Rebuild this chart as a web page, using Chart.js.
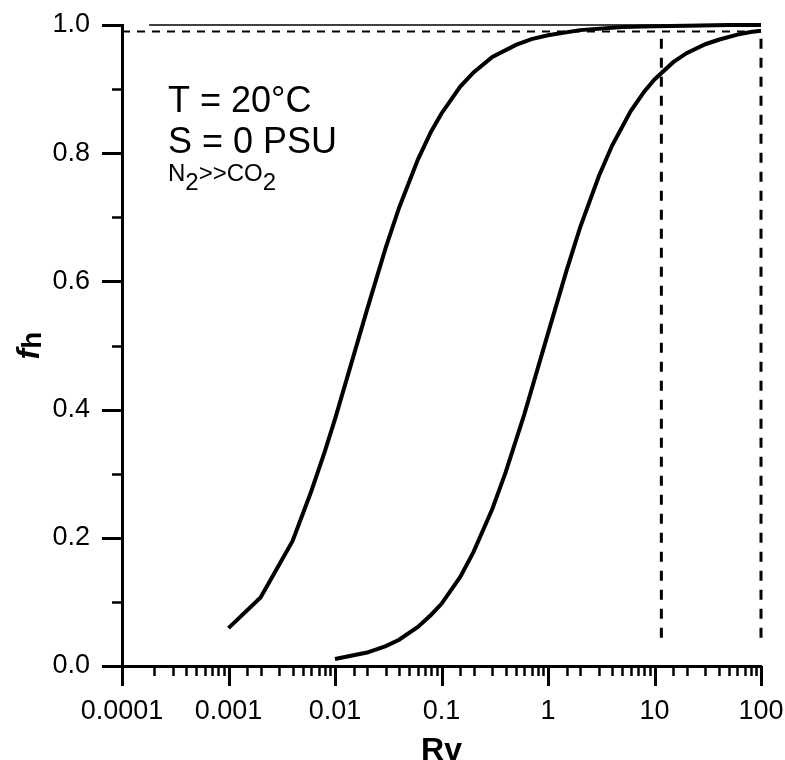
<!DOCTYPE html>
<html>
<head>
<meta charset="utf-8">
<script src="https://cdn.jsdelivr.net/npm/chart.js@4/dist/chart.umd.min.js"></script>
<style>
  html, body { margin: 0; padding: 0; background: #fff; }
  #wrap { width: 785px; height: 760px; }
</style>
</head>
<body>
<div id="wrap"><canvas id="chart" width="785" height="760"></canvas></div>
<script>
// values
var rv_left = [0.001, 0.002, 0.004, 0.006, 0.008, 0.01, 0.015, 0.02, 0.03, 0.04, 0.06, 0.08, 0.1,
               0.15, 0.2, 0.3, 0.5, 0.7, 1, 2, 5, 10, 20, 50, 100];
var fh_left = [0.059, 0.107, 0.195, 0.273, 0.334, 0.385, 0.485, 0.556, 0.653, 0.715, 0.790, 0.834, 0.862,
               0.904, 0.926, 0.950, 0.969, 0.978, 0.984, 0.992, 0.997, 0.998, 0.999, 1.0, 1.0];

var rv_right = [0.01, 0.02, 0.03, 0.04, 0.06, 0.08, 0.1, 0.15, 0.2, 0.3, 0.4, 0.6, 0.8, 1,
                1.5, 2, 3, 4, 6, 8, 10, 15, 20, 30, 40, 60, 80, 100];
var fh_right = [0.011, 0.021, 0.031, 0.041, 0.061, 0.080, 0.097, 0.139, 0.178, 0.245, 0.302, 0.393, 0.464, 0.519,
                0.618, 0.684, 0.764, 0.812, 0.866, 0.896, 0.915, 0.942, 0.956, 0.970, 0.977, 0.985, 0.989, 0.991];

var x_tick_labels = ['0.0001', '0.001', '0.01', '0.1', '1', '10', '100'];
var y_tick_labels = ['0.0', '0.2', '0.4', '0.6', '0.8', '1.0'];

var ref_level = 0.99;        // horizontal dashed line
var ref_x = [11.6, 100];     // vertical dashed lines
var ref_bottom = 0.044;
var unity_x = [0.00018, 100];

var FONT = "Arial, 'Liberation Sans', sans-serif";

function pts(xs, ys) {
    return xs.map(function (x, i) { return {x: x, y: ys[i]}; });
}

function isDecade(v) {
    var l = Math.log10(v);
    return Math.abs(l - Math.round(l)) < 1e-6;
}

var extras = {
    id: 'extras',
    afterDraw: function (chart) {
        var ctx = chart.ctx;
        var xs = chart.scales.x, ys = chart.scales.y;
        var area = chart.chartArea;
        ctx.save();
        ctx.strokeStyle = '#000';
        ctx.lineCap = 'butt';

        // x ticks below the axis
        xs.ticks.forEach(function (t) {
            var px = Math.round(xs.getPixelForValue(t.value)) + 0.5;
            var major = isDecade(t.value);
            ctx.lineWidth = major ? 3 : 2.5;
            ctx.beginPath();
            ctx.moveTo(px, area.bottom);
            ctx.lineTo(px, area.bottom + (major ? 20 : 10));
            ctx.stroke();
        });
        // y ticks left of the axis
        ys.ticks.forEach(function (t) {
            var py = Math.round(ys.getPixelForValue(t.value)) + 0.5;
            var major = Math.round(t.value * 10) % 2 === 0;
            ctx.lineWidth = major ? 3 : 2.5;
            ctx.beginPath();
            ctx.moveTo(area.left, py);
            ctx.lineTo(area.left - (major ? 20 : 10), py);
            ctx.stroke();
        });

        ctx.fillStyle = '#000';
        ctx.textAlign = 'left';
        ctx.textBaseline = 'alphabetic';

        // x title
        ctx.font = 'bold 32px ' + FONT;
        ctx.textAlign = 'center';
        ctx.fillText('Rv', (area.left + area.right) / 2, 760);

        // y title: f with subscript h, rotated
        ctx.save();
        ctx.translate(39, (area.top + area.bottom) / 2);
        ctx.rotate(-Math.PI / 2);
        ctx.textAlign = 'left';
        ctx.font = 'italic bold 32px ' + FONT;
        var wf = ctx.measureText('f').width;
        ctx.font = 'bold 28px ' + FONT;
        var wh = ctx.measureText('h').width;
        var x0 = -(wf + wh) / 2;
        ctx.font = 'italic bold 32px ' + FONT;
        ctx.fillText('f', x0, 0);
        ctx.font = 'bold 28px ' + FONT;
        ctx.fillText('h', x0 + wf, 2);
        ctx.restore();

        // annotation
        ctx.textAlign = 'left';
        var ax = area.left + 46;
        ctx.font = '36px ' + FONT;
        ctx.fillText('T = 20\u00B0C', ax, 112);
        ctx.fillText('S = 0 PSU', ax, 153);
        ctx.font = '24px ' + FONT;
        var x = ax;
        ctx.fillText('N', x, 181); x += ctx.measureText('N').width;
        ctx.fillText('2', x, 190); x += ctx.measureText('2').width;
        ctx.fillText('>>CO', x, 181); x += ctx.measureText('>>CO').width;
        ctx.fillText('2', x, 190);

        ctx.restore();
    }
};

function lineSet(data, width, dash) {
    return {
        data: data,
        borderColor: '#000',
        borderWidth: width,
        borderDash: dash || [],
        pointRadius: 0,
        tension: 0,
        fill: false,
        clip: false
    };
}

var ctx = document.getElementById('chart').getContext('2d');
new Chart(ctx, {
    type: 'line',
    data: {
        datasets: [
            lineSet(pts(unity_x, [1, 1]), 1.5),
            lineSet(pts([0.0001, 100], [ref_level, ref_level]), 2, [8, 7]),
            lineSet(pts([ref_x[0], ref_x[0]], [ref_bottom, ref_level]), 3, [10, 9]),
            lineSet(pts([ref_x[1], ref_x[1]], [ref_bottom, ref_level]), 3, [10, 9]),
            lineSet(pts(rv_left, fh_left), 4),
            lineSet(pts(rv_right, fh_right), 4)
        ]
    },
    options: {
        responsive: false,
        animation: false,
        devicePixelRatio: 1,
        layout: { padding: { left: 0, top: 25, right: 24, bottom: 0 } },
        plugins: { legend: { display: false }, tooltip: { enabled: false } },
        scales: {
            x: {
                type: 'logarithmic',
                min: 0.0001,
                max: 100,
                grid: { display: false, drawTicks: false },
                border: { display: true, color: '#000', width: 3 },
                ticks: {
                    autoSkip: false,
                    maxRotation: 0,
                    padding: 29,
                    color: '#000',
                    font: { family: FONT, size: 27 },
                    callback: function (v) {
                        if (!isDecade(v)) return '';
                        return x_tick_labels[Math.round(Math.log10(v)) + 4];
                    }
                },
                afterFit: function (s) {
                    s.height = 94;
                    s.paddingLeft = 0; s.paddingRight = 0;
                    s.paddingTop = 0; s.paddingBottom = 0;
                }
            },
            y: {
                min: 0,
                max: 1,
                grid: { display: false, drawTicks: false },
                border: { display: true, color: '#000', width: 3 },
                ticks: {
                    stepSize: 0.1,
                    autoSkip: false,
                    padding: 32,
                    color: '#000',
                    font: { family: FONT, size: 27 },
                    callback: function (v) {
                        var k = Math.round(v * 10);
                        return k % 2 === 0 ? y_tick_labels[k / 2] : '';
                    }
                },
                afterFit: function (s) {
                    s.width = 122;
                    s.paddingLeft = 0; s.paddingRight = 0;
                    s.paddingTop = 0; s.paddingBottom = 0;
                }
            }
        }
    },
    plugins: [extras]
});
</script>
</body>
</html>
